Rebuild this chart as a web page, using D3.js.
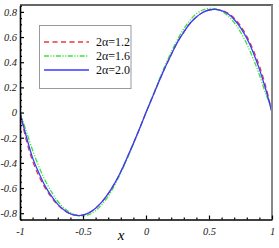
<!DOCTYPE html>
<html><head><meta charset="utf-8">
<script src="https://cdn.jsdelivr.net/npm/d3@7"></script>
<style>html,body{margin:0;padding:0;background:#fff;}svg{display:block;}
.serif{font-family:"Liberation Serif","Times New Roman",Times,"DejaVu Serif",serif;}</style>
</head><body>
<svg id="c" width="279" height="248"></svg>
<script>
const xs = [-1,-0.95,-0.9,-0.85,-0.8,-0.75,-0.7,-0.65,-0.6,-0.55,-0.5,-0.45,-0.4,-0.35,-0.3,-0.25,-0.2,-0.15,-0.1,-0.05,0,0.05,0.1,0.15,0.2,0.25,0.3,0.35,0.4,0.45,0.5,0.55,0.6,0.65,0.7,0.75,0.8,0.85,0.9,0.95,1];
const y12 = [0,-0.22,-0.385,-0.505,-0.6,-0.675,-0.735,-0.778,-0.806,-0.818,-0.813,-0.795,-0.76,-0.71,-0.645,-0.565,-0.47,-0.36,-0.245,-0.125,0,0.12,0.24,0.355,0.46,0.56,0.64,0.71,0.76,0.795,0.815,0.82,0.812,0.79,0.75,0.69,0.605,0.5,0.37,0.21,0];
const y16 = [0,-0.15,-0.30,-0.43,-0.54,-0.63,-0.705,-0.76,-0.795,-0.815,-0.822,-0.81,-0.78,-0.73,-0.665,-0.58,-0.48,-0.37,-0.25,-0.125,0,0.125,0.25,0.37,0.48,0.58,0.665,0.735,0.785,0.815,0.828,0.825,0.805,0.77,0.715,0.64,0.545,0.43,0.3,0.15,0.03];
const y20 = [0,-0.19,-0.36,-0.48,-0.585,-0.665,-0.73,-0.775,-0.805,-0.818,-0.815,-0.795,-0.76,-0.71,-0.645,-0.565,-0.47,-0.36,-0.245,-0.125,0,0.12,0.24,0.355,0.46,0.56,0.64,0.71,0.76,0.795,0.815,0.82,0.81,0.785,0.74,0.675,0.59,0.48,0.345,0.185,0];
const xTicks = [-1,-0.5,0,0.5,1];
const xTickLabels = ["-1","-0.5","0","0.5","1"];
const yTicks = [-0.8,-0.6,-0.4,-0.2,0,0.2,0.4,0.6,0.8];
const yTickLabels = ["-0.8","-0.6","-0.4","-0.2","0","0.2","0.4","0.6","0.8"];
const seriesNames = ["2\u03b1=1.2","2\u03b1=1.6","2\u03b1=2.0"];

const L=20, R=272, T=5, B=219.5;
const x = d3.scaleLinear().domain([-1,1]).range([L,R]);
const y = d3.scaleLinear().domain([-0.85,0.85]).range([B,T+0.6]);
const svg = d3.select("#c");

const series = [
  {name:seriesNames[0], vals:y12, color:"#e8393a", dash:"5,3.5", w:1.3},
  {name:seriesNames[1], vals:y16, color:"#3ee03e", dash:"5,1.5,1.2,1.5,1.2,1.5", w:1.3},
  {name:seriesNames[2], vals:y20, color:"#3a3aff", dash:null, w:1.3}
];
const line = d3.line().x((d,i)=>x(xs[i])).y(d=>y(d)).curve(d3.curveCatmullRom);
svg.append("defs").append("clipPath").attr("id","clip").append("rect")
  .attr("x",L).attr("y",T).attr("width",R-L).attr("height",B-T);
const g = svg.append("g").attr("clip-path","url(#clip)");
series.forEach(s=>{
  g.append("path").attr("d",line(s.vals)).attr("fill","none")
   .attr("stroke",s.color).attr("stroke-width",s.w)
   .attr("stroke-dasharray",s.dash);
});

// frame
svg.append("line").attr("x1",L).attr("x2",R+1).attr("y1",T).attr("y2",T).attr("stroke","#333").attr("stroke-width",1.5);
svg.append("line").attr("x1",R).attr("x2",R).attr("y1",T).attr("y2",B).attr("stroke","#888").attr("stroke-width",2);

// axes
const xAxis = d3.axisBottom(x).tickValues(xTicks).tickFormat((d,i)=>xTickLabels[i]).tickSizeInner(-4).tickSizeOuter(0).tickPadding(8);
const gx = svg.append("g").attr("transform",`translate(0,${B})`).call(xAxis);
const xMinor = d3.range(-10,11).map(v=>v/10).filter(v=>Math.abs(v*2-Math.round(v*2))>1e-6);
svg.append("g").attr("transform",`translate(0,${B})`)
  .call(d3.axisBottom(x).tickValues(xMinor).tickSizeInner(-2).tickSizeOuter(0).tickFormat(""))
  .call(a=>a.select(".domain").remove());
const yAxis = d3.axisLeft(y).tickValues(yTicks).tickFormat((d,i)=>yTickLabels[i]).tickSizeInner(-4).tickSizeOuter(0).tickPadding(3);
const gy = svg.append("g").attr("transform",`translate(${L},0)`).call(yAxis);
const yMinor = d3.range(-17,18).map(v=>v/20).filter(v=>Math.abs(v*5-Math.round(v*5))>1e-6);
svg.append("g").attr("transform",`translate(${L},0)`)
  .call(d3.axisLeft(y).tickValues(yMinor).tickSizeInner(-2).tickSizeOuter(0).tickFormat(""))
  .call(a=>a.select(".domain").remove());
[gx,gy].forEach(a=>{
  a.attr("font-family",null).attr("font-size",null);
  a.select(".domain").attr("stroke","#000").attr("stroke-width",1.6);
  a.selectAll(".tick text").attr("class","serif").style("font-style","italic").style("font-size","10.5px").attr("fill","#222");
});
svg.selectAll(".tick line").attr("stroke","#000").attr("stroke-width",1.2);

// x label
svg.append("text").attr("class","serif").attr("x",121).attr("y",240).style("font-style","italic")
  .style("font-size","15px").attr("text-anchor","middle").text("x");

// legend
const lg = svg.append("g");
lg.append("rect").attr("x",39.5).attr("y",25.5).attr("width",91.5).attr("height",63).attr("fill","#fff").attr("stroke","#999").attr("stroke-width",1);
const rowsY = [42,56,70];
series.forEach((s,i)=>{
  lg.append("line").attr("x1",44).attr("x2",89).attr("y1",rowsY[i]).attr("y2",rowsY[i])
    .attr("stroke",s.color).attr("stroke-width",1.5).attr("stroke-dasharray",s.dash);
  lg.append("text").attr("class","serif").attr("x",96).attr("y",rowsY[i]+4).style("font-size","12px")
    .attr("fill","#111").text(s.name);
});
</script>
</body></html>
